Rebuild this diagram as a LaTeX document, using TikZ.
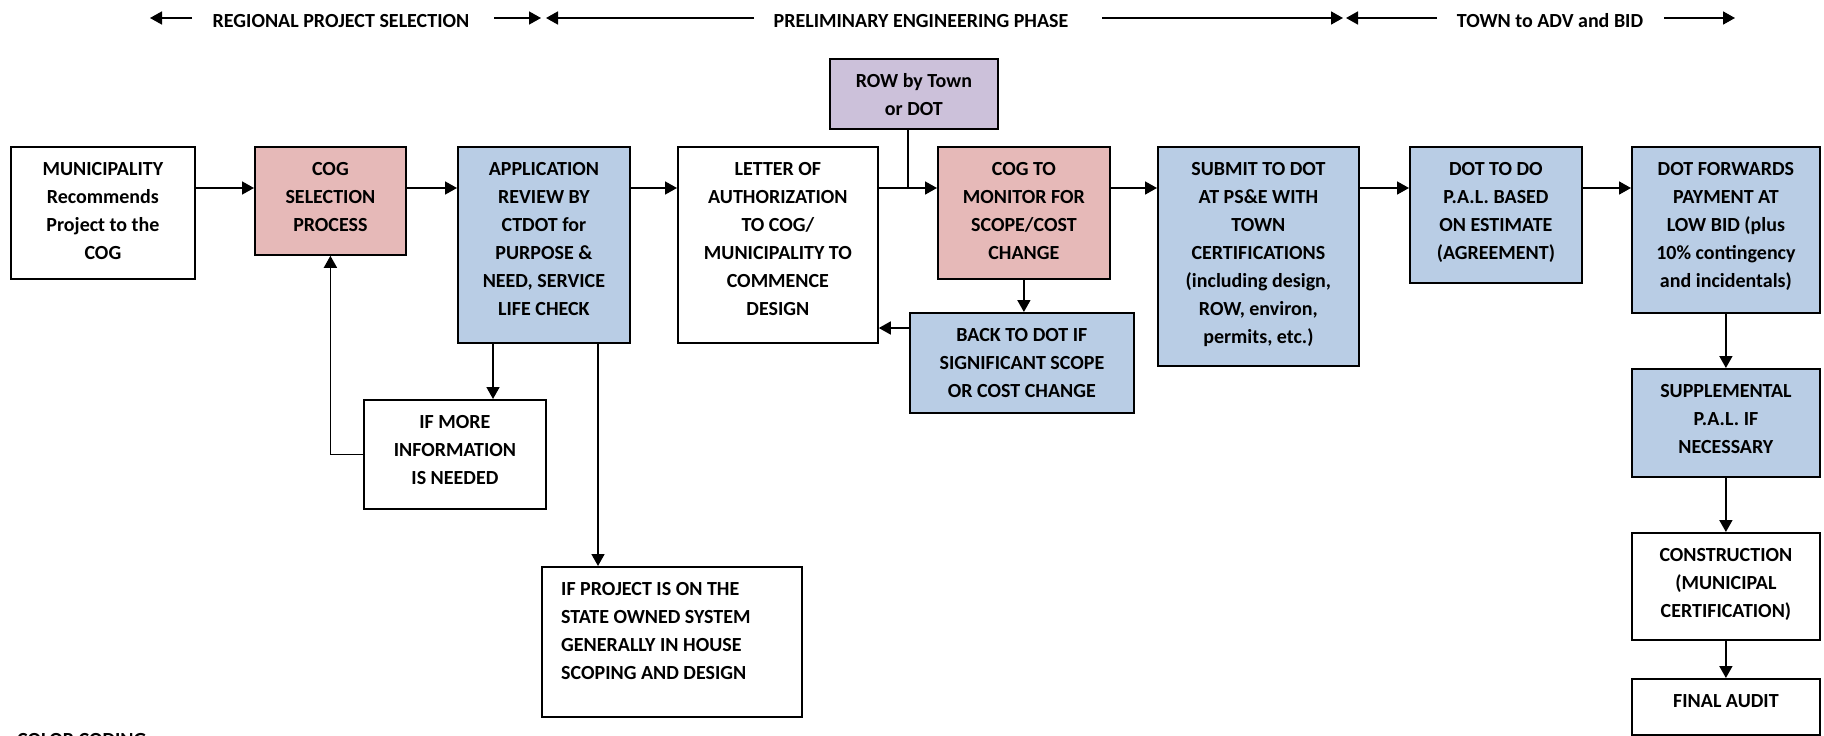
\documentclass[tikz,border=0pt]{standalone}
\usepackage{fontspec}
\setmainfont{Carlito}
\usetikzlibrary{arrows.meta,calc}
\definecolor{pinkc}{HTML}{E6B9B8}
\definecolor{bluec}{HTML}{B9CDE5}
\definecolor{purpc}{HTML}{CCC1DA}
\tikzset{
  box/.style={draw=black, line width=1.8pt, anchor=north west, inner sep=0pt},
  txt/.style={anchor=north, inner sep=0pt, align=center, font=\bfseries\fontsize{20}{28}\selectfont},
  hdr/.style={anchor=base, inner sep=0pt, font=\bfseries\fontsize{20}{24}\selectfont},
  conn/.style={line width=1.7pt, -{Triangle[length=12pt,width=13pt]}},
  plainline/.style={line width=1.7pt},
}
\newcommand\mybox[7]{%
  \node[box, fill=#2, minimum width={#5-#3}, minimum height={#6-#4}] (#1) at (#3,#4) {};
  \node[txt] (#1-t) at ($(#1.north)+(0,13)$) {\rule{0pt}{16.5pt}#7};
}
\begin{document}
\begin{tikzpicture}[x=1pt,y=-1pt]
\useasboundingbox (0,0) rectangle (1824,736);
\clip (0,0) rectangle (1824,736);
% header
\node[hdr] (h1) at (341,27.5) {REGIONAL PROJECT SELECTION};
\node[hdr] (h2) at (921,27.5) {PRELIMINARY ENGINEERING PHASE};
\node[hdr] (h3) at (1550,27.5) {TOWN to ADV and BID};
\coordinate (a1s) at (192,18); \coordinate (a1e) at (150,18);
\coordinate (a2s) at (494,18); \coordinate (a2e) at (541,18);
\coordinate (a3s) at (754,18); \coordinate (a3e) at (546,18);
\coordinate (a4s) at (1102,18); \coordinate (a4e) at (1343,18);
\coordinate (a5s) at (1437,18); \coordinate (a5e) at (1346,18);
\coordinate (a6s) at (1664,18); \coordinate (a6e) at (1735,18);
\draw[conn] (a1s) -- (a1e);
\draw[conn] (a2s) -- (a2e);
\draw[conn] (a3s) -- (a3e);
\draw[conn] (a4s) -- (a4e);
\draw[conn] (a5s) -- (a5e);
\draw[conn] (a6s) -- (a6e);
% boxes
\mybox{muni}{white}{10}{146}{194}{278}{MUNICIPALITY\\Recommends\\Project to the\\COG}
\mybox{cog}{pinkc}{254}{146}{405}{254}{COG\\SELECTION\\PROCESS}
\mybox{app}{bluec}{457}{146}{629}{342}{APPLICATION\\REVIEW BY\\CTDOT for\\PURPOSE \&\\NEED, SERVICE\\LIFE CHECK}
\mybox{letter}{white}{677}{146}{877}{342}{LETTER OF\\AUTHORIZATION\\TO COG/\\MUNICIPALITY TO\\COMMENCE\\DESIGN}
\mybox{row}{purpc}{829}{58}{997}{128}{ROW by Town\\or DOT}
\mybox{monitor}{pinkc}{937}{146}{1109}{278}{COG TO\\MONITOR FOR\\SCOPE/COST\\CHANGE}
\mybox{back}{bluec}{909}{312}{1133}{412}{BACK TO DOT IF\\SIGNIFICANT SCOPE\\OR COST CHANGE}
\mybox{submit}{bluec}{1157}{146}{1358}{365}{SUBMIT TO DOT\\AT PS\&E WITH\\TOWN\\CERTIFICATIONS\\(including design,\\ROW, environ,\\permits, etc.)}
\mybox{dotdo}{bluec}{1409}{146}{1581}{282}{DOT TO DO\\P.A.L. BASED\\ON ESTIMATE\\(AGREEMENT)}
\mybox{dotfwd}{bluec}{1631}{146}{1819}{312}{DOT FORWARDS\\PAYMENT AT\\LOW BID (plus\\10\% contingency\\and incidentals)}
\mybox{supp}{bluec}{1631}{368}{1819}{476}{SUPPLEMENTAL\\P.A.L. IF\\NECESSARY}
\mybox{constr}{white}{1631}{532}{1819}{639}{CONSTRUCTION\\(MUNICIPAL\\CERTIFICATION)}
\mybox{final}{white}{1631}{678}{1819}{734}{FINAL AUDIT}
\mybox{ifmore}{white}{363}{399}{545}{508}{IF MORE\\INFORMATION\\IS NEEDED}
\node[box, fill=white, minimum width=260, minimum height=150] (ifproj) at (541,566) {};
\node[txt, anchor=north west, align=left] (ifproj-t) at (561,579) {\rule{0pt}{16.5pt}IF PROJECT IS ON THE\\STATE OWNED SYSTEM\\GENERALLY IN HOUSE\\SCOPING AND DESIGN};
\node[anchor=base west, inner sep=0pt, font=\bfseries\fontsize{20}{24}\selectfont] (cc) at (17,746) {COLOR CODING};
% connectors
\coordinate (ay) at (0,188);
\coordinate (bx1) at (493,0);
\coordinate (bx2) at (598,0);
\coordinate (by) at (0,328);
\coordinate (rx) at (908,0);
\draw[conn] (muni.east |- ay) -- (cog.west |- ay);
\draw[conn] (cog.east |- ay) -- (app.west |- ay);
\draw[conn] (app.east |- ay) -- (letter.west |- ay);
\draw[conn] (letter.east |- ay) -- (monitor.west |- ay);
\draw[plainline] (row.south -| rx) -- (ay -| rx);
\draw[conn] (monitor.east |- ay) -- (submit.west |- ay);
\draw[conn] (submit.east |- ay) -- (dotdo.west |- ay);
\draw[conn] (dotdo.east |- ay) -- (dotfwd.west |- ay);
\draw[conn] (dotfwd.south) -- (supp.north);
\draw[conn] (supp.south) -- (constr.north);
\draw[conn] (constr.south) -- (final.north);
\draw[conn] (monitor.south) -- (monitor.south |- back.north);
\draw[conn] (back.west |- by) -- (letter.east |- by);
\draw[conn] (app.south -| bx1) -- (ifmore.north -| bx1);
\draw[conn] (app.south -| bx2) -- (ifproj.north -| bx2);
\draw[conn] (ifmore.west) -| (cog.south);
\end{tikzpicture}
\end{document}
